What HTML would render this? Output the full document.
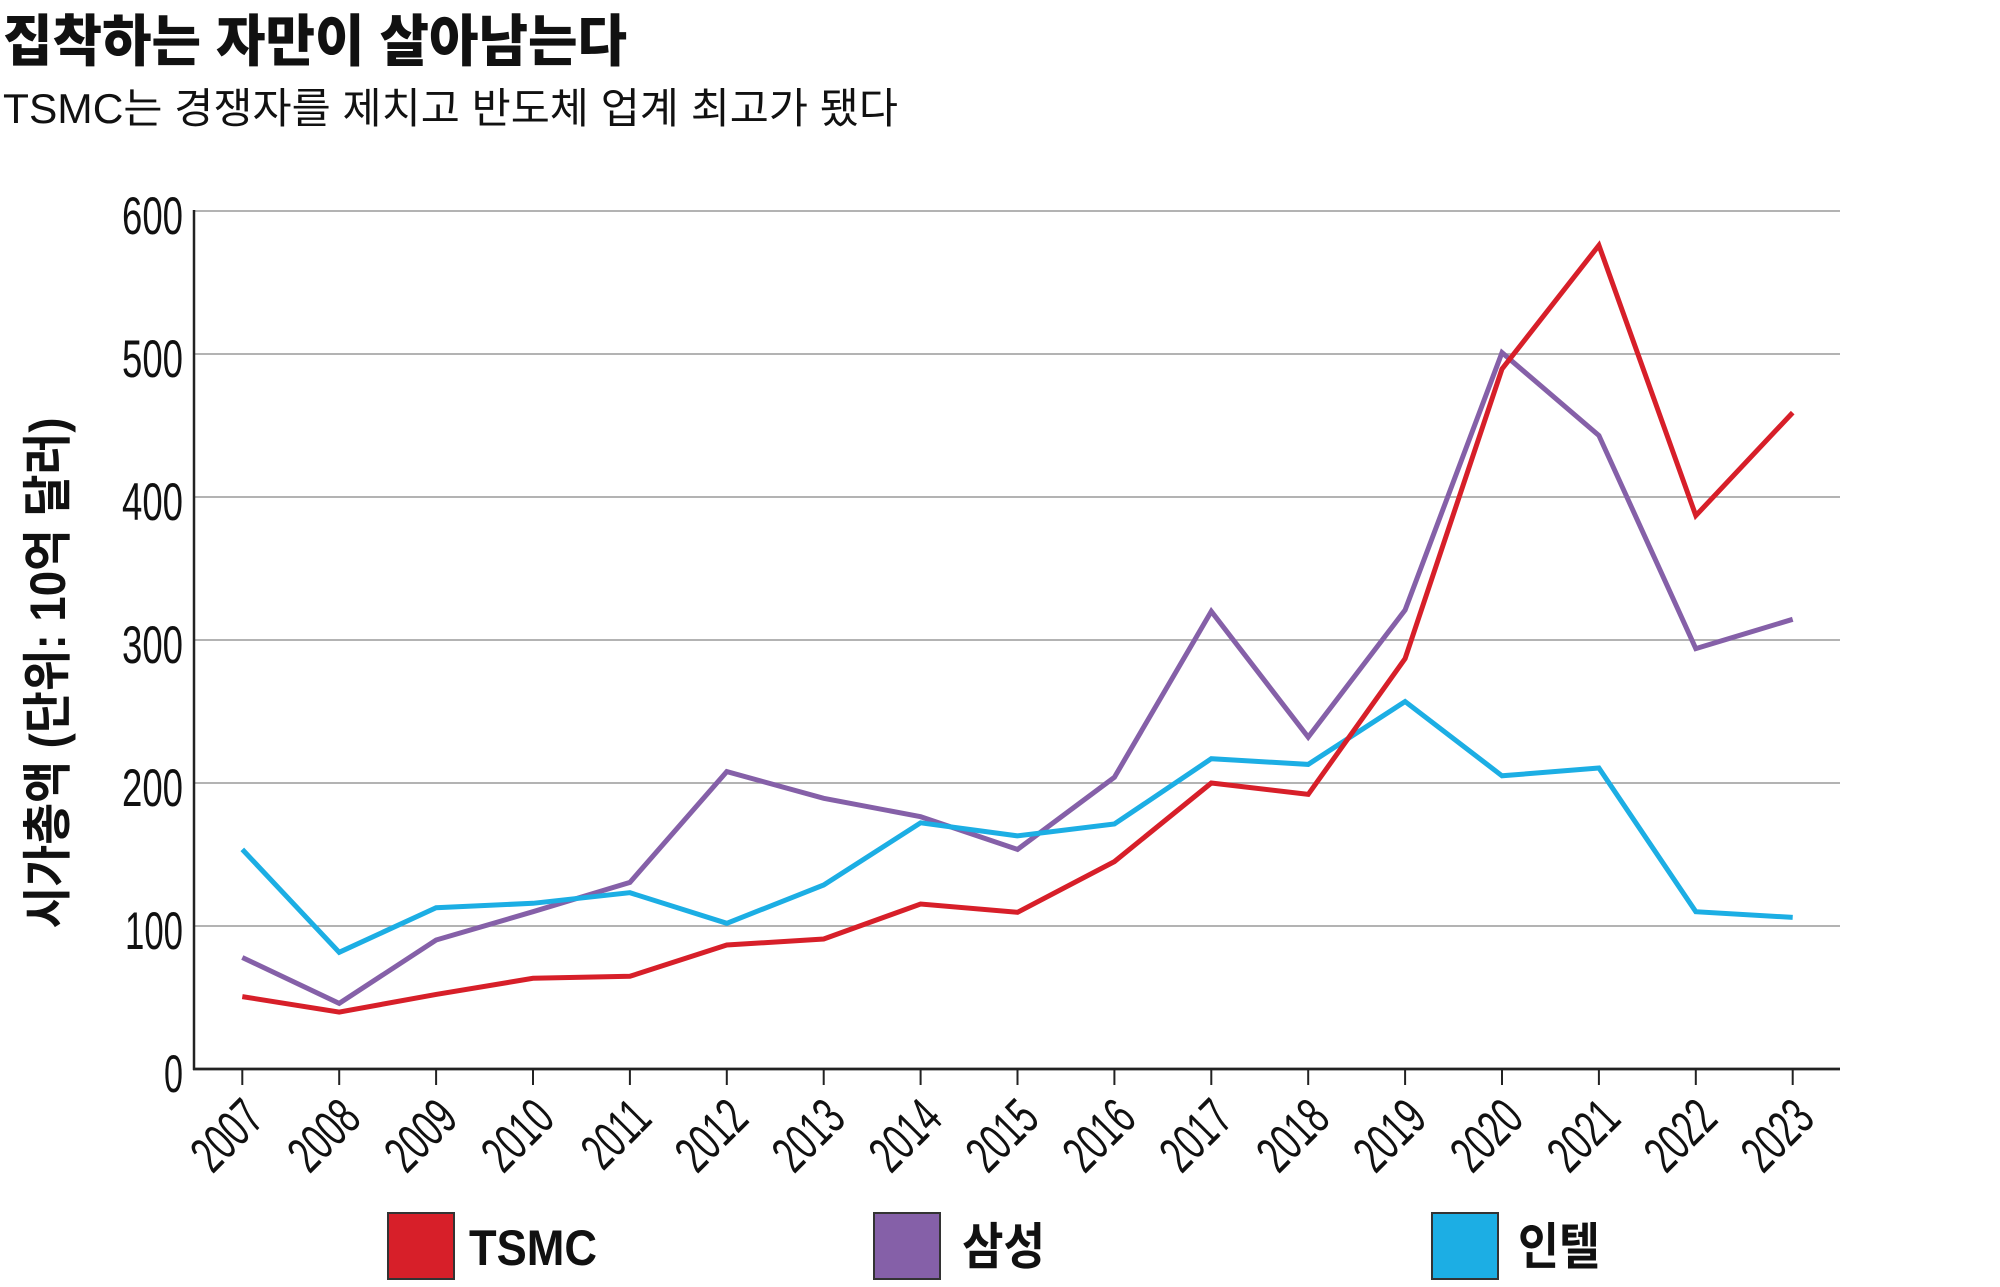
<!DOCTYPE html>
<html>
<head>
<meta charset="utf-8">
<style>
html,body{margin:0;padding:0;background:#fff;}
svg{display:block;}
.kr{font-family:"Liberation Sans","Noto Sans CJK KR",sans-serif;}
.num{font-family:"Liberation Sans",sans-serif;fill:#111;}
</style>
</head>
<body>
<svg width="2000" height="1287" viewBox="0 0 2000 1287" xmlns="http://www.w3.org/2000/svg">
<rect width="2000" height="1287" fill="#fff"/>

<!-- Title -->
<text class="kr" x="3" y="61" font-size="56" font-weight="900" fill="#111" textLength="624" lengthAdjust="spacingAndGlyphs">집착하는 자만이 살아남는다</text>
<text class="kr" x="3" y="123" font-size="42" font-weight="400" fill="#111" textLength="895" lengthAdjust="spacingAndGlyphs">TSMC는 경쟁자를 제치고 반도체 업계 최고가 됐다</text>

<!-- Y axis title -->
<text class="kr" transform="translate(65,673) rotate(-90)" text-anchor="middle" font-size="50" font-weight="700" fill="#111" textLength="511" lengthAdjust="spacingAndGlyphs">시가총액 (단위: 10억 달러)</text>

<!-- Gridlines -->
<g stroke="#9a9a9a" stroke-width="1.6">
<line x1="194" y1="211" x2="1840" y2="211"/>
<line x1="194" y1="354" x2="1840" y2="354"/>
<line x1="194" y1="497" x2="1840" y2="497"/>
<line x1="194" y1="640" x2="1840" y2="640"/>
<line x1="194" y1="783" x2="1840" y2="783"/>
<line x1="194" y1="926" x2="1840" y2="926"/>
</g>

<!-- Y labels -->
<g class="num" font-size="53" text-anchor="end">
<text x="183" y="234" textLength="61" lengthAdjust="spacingAndGlyphs">600</text>
<text x="183" y="377" textLength="61" lengthAdjust="spacingAndGlyphs">500</text>
<text x="183" y="520" textLength="61" lengthAdjust="spacingAndGlyphs">400</text>
<text x="183" y="663" textLength="61" lengthAdjust="spacingAndGlyphs">300</text>
<text x="183" y="806" textLength="61" lengthAdjust="spacingAndGlyphs">200</text>
<text x="183" y="949" textLength="58" lengthAdjust="spacingAndGlyphs">100</text>
<text x="183" y="1092" textLength="19" lengthAdjust="spacingAndGlyphs">0</text>
</g>

<!-- Axes -->
<line x1="194" y1="210" x2="194" y2="1070" stroke="#222" stroke-width="2.5"/>
<line x1="193" y1="1069" x2="1840" y2="1069" stroke="#222" stroke-width="2.8"/>

<!-- Ticks -->
<g stroke="#222" stroke-width="2">
<line x1="242.3" y1="1069" x2="242.3" y2="1085"/>
<line x1="339.2" y1="1069" x2="339.2" y2="1085"/>
<line x1="436.1" y1="1069" x2="436.1" y2="1085"/>
<line x1="533.0" y1="1069" x2="533.0" y2="1085"/>
<line x1="629.9" y1="1069" x2="629.9" y2="1085"/>
<line x1="726.8" y1="1069" x2="726.8" y2="1085"/>
<line x1="823.7" y1="1069" x2="823.7" y2="1085"/>
<line x1="920.6" y1="1069" x2="920.6" y2="1085"/>
<line x1="1017.5" y1="1069" x2="1017.5" y2="1085"/>
<line x1="1114.4" y1="1069" x2="1114.4" y2="1085"/>
<line x1="1211.3" y1="1069" x2="1211.3" y2="1085"/>
<line x1="1308.2" y1="1069" x2="1308.2" y2="1085"/>
<line x1="1405.1" y1="1069" x2="1405.1" y2="1085"/>
<line x1="1502.0" y1="1069" x2="1502.0" y2="1085"/>
<line x1="1598.9" y1="1069" x2="1598.9" y2="1085"/>
<line x1="1695.8" y1="1069" x2="1695.8" y2="1085"/>
<line x1="1792.7" y1="1069" x2="1792.7" y2="1085"/>
</g>

<!-- X labels -->
<g class="num" font-size="52" text-anchor="end">
<text transform="translate(266.3,1121) rotate(-45)" textLength="76" lengthAdjust="spacingAndGlyphs">2007</text>
<text transform="translate(363.2,1121) rotate(-45)" textLength="76" lengthAdjust="spacingAndGlyphs">2008</text>
<text transform="translate(460.1,1121) rotate(-45)" textLength="76" lengthAdjust="spacingAndGlyphs">2009</text>
<text transform="translate(557.0,1121) rotate(-45)" textLength="76" lengthAdjust="spacingAndGlyphs">2010</text>
<text transform="translate(653.9,1121) rotate(-45)" textLength="72" lengthAdjust="spacingAndGlyphs">2011</text>
<text transform="translate(750.8,1121) rotate(-45)" textLength="76" lengthAdjust="spacingAndGlyphs">2012</text>
<text transform="translate(847.7,1121) rotate(-45)" textLength="76" lengthAdjust="spacingAndGlyphs">2013</text>
<text transform="translate(944.6,1121) rotate(-45)" textLength="76" lengthAdjust="spacingAndGlyphs">2014</text>
<text transform="translate(1041.5,1121) rotate(-45)" textLength="76" lengthAdjust="spacingAndGlyphs">2015</text>
<text transform="translate(1138.4,1121) rotate(-45)" textLength="76" lengthAdjust="spacingAndGlyphs">2016</text>
<text transform="translate(1235.3,1121) rotate(-45)" textLength="76" lengthAdjust="spacingAndGlyphs">2017</text>
<text transform="translate(1332.2,1121) rotate(-45)" textLength="76" lengthAdjust="spacingAndGlyphs">2018</text>
<text transform="translate(1429.1,1121) rotate(-45)" textLength="76" lengthAdjust="spacingAndGlyphs">2019</text>
<text transform="translate(1526.0,1121) rotate(-45)" textLength="76" lengthAdjust="spacingAndGlyphs">2020</text>
<text transform="translate(1622.9,1121) rotate(-45)" textLength="76" lengthAdjust="spacingAndGlyphs">2021</text>
<text transform="translate(1719.8,1121) rotate(-45)" textLength="76" lengthAdjust="spacingAndGlyphs">2022</text>
<text transform="translate(1816.7,1121) rotate(-45)" textLength="76" lengthAdjust="spacingAndGlyphs">2023</text>
</g>

<!-- Series -->
<g fill="none" stroke-width="5" stroke-linejoin="miter" stroke-linecap="butt">
<polyline stroke="#8560a8" points="242.3,957.5 339.2,1003.4 436.1,940 533.0,911.7 629.9,882.4 726.8,771.6 823.7,798.3 920.6,816.7 1017.5,849.4 1114.4,777.3 1211.3,611.4 1308.2,737.2 1405.1,610 1502.0,352.6 1598.9,435.5 1695.8,648.6 1792.7,619.3"/>
<polyline stroke="#1caee4" points="242.3,849.4 339.2,952.3 436.1,907.7 533.0,903.3 629.9,892.7 726.8,923.3 823.7,885 920.6,822.8 1017.5,835.9 1114.4,824 1211.3,758.7 1308.2,764.4 1405.1,701.5 1502.0,775.8 1598.9,768 1695.8,911.7 1792.7,917.4"/>
<polyline stroke="#d71f29" points="242.3,996.6 339.2,1012.1 436.1,994.4 533.0,978.3 629.9,976.3 726.8,945.0 823.7,939.0 920.6,904.0 1017.5,912.3 1114.4,861.6 1211.3,783 1308.2,794.4 1405.1,658.6 1502.0,369 1598.9,245.3 1695.8,515.6 1792.7,412.6"/>
</g>

<!-- Legend -->
<rect x="388" y="1213" width="66" height="66" fill="#d71f29" stroke="#333" stroke-width="2"/>
<text class="kr" x="469" y="1265" font-size="50" font-weight="700" fill="#111" textLength="128" lengthAdjust="spacingAndGlyphs">TSMC</text>

<rect x="874" y="1213" width="66" height="66" fill="#8560a8" stroke="#333" stroke-width="2"/>
<text class="kr" x="962" y="1264" font-size="50" font-weight="700" fill="#111" textLength="83" lengthAdjust="spacingAndGlyphs">삼성</text>

<rect x="1432" y="1213" width="66" height="66" fill="#1caee4" stroke="#333" stroke-width="2"/>
<text class="kr" x="1518" y="1264" font-size="50" font-weight="700" fill="#111" textLength="82" lengthAdjust="spacingAndGlyphs">인텔</text>
</svg>
</body>
</html>
